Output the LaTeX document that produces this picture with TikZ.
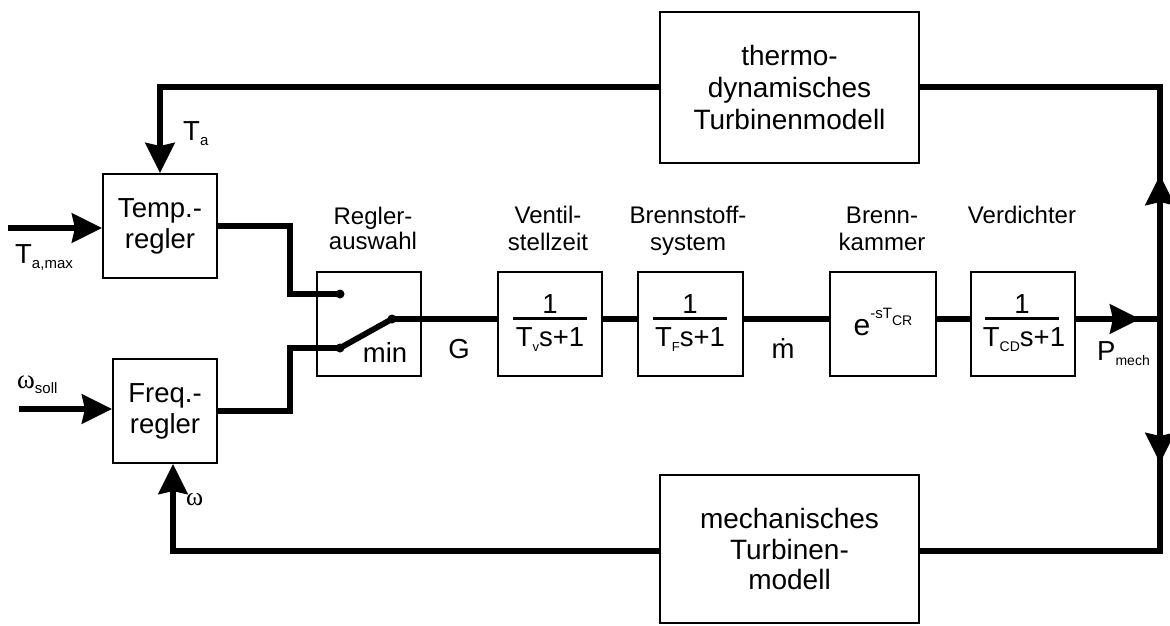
\documentclass[tikz,border=0pt]{standalone}
\usepackage{fontspec}
\setmainfont{Liberation Sans}
\newfontfamily\serifw{Liberation Serif}
\usetikzlibrary{arrows.meta,calc}
\newcommand\lowtxt[2][15]{\raisebox{-5pt}{\fontsize{#1}{#1}\selectfont #2}}
\newcommand\hightxt[3][15]{\raisebox{#2}{\fontsize{#1}{#1}\selectfont #3}}
\begin{document}
\begin{tikzpicture}[x=1pt,y=-1pt,
  blk/.style={draw, line width=2pt, minimum width=104pt, minimum height=104pt,
    inner sep=0pt, font=\fontsize{27.5}{31}\selectfont, align=center},
  sig/.style={line width=5.8pt},
  arr/.style={sig, -{Stealth[length=30pt,width=29pt,inset=3pt]}},
  capt/.style={font=\fontsize{24}{27}\selectfont, anchor=base, inner sep=0pt},
  lbl/.style={font=\fontsize{27.5}{31}\selectfont, anchor=base, inner sep=0pt},
  lblw/.style={lbl, anchor=base west},
  dot/.style={circle, fill, inner sep=0pt, minimum size=9pt},
  bar/.style={line width=3pt}]
\useasboundingbox[fill=white] (0,0) rectangle (1170,625);

% blocks
\node[blk, minimum width=114pt] (temp) at (160,226) {Temp.-\\regler};
\node[blk] (freq) at (165,411) {Freq.-\\regler};
\node[blk] (sw) at (369,324) {};
\node[blk] (vent) at (550,324) {};
\node[blk, minimum width=105pt] (fuel) at (690.5,324) {};
\node[blk, minimum width=106pt] (comb) at (883,324) {};
\node[blk] (comp) at (1023,324) {};
\node[blk, minimum width=259pt, minimum height=151pt, font=\fontsize{28}{32}\selectfont]
  (thermo) at (789.5,87.5) {thermo-\\dynamisches\\Turbinenmodell};
\node[blk, minimum width=259pt, minimum height=148pt, font=\fontsize{28}{30.5}\selectfont]
  (mech) at (789.5,549) {mechanisches\\Turbinen-\\modell};

% switch
\node[dot] (s1) at (340,294) {};
\node[dot] (s2) at (340,348) {};
\node[dot] (s3) at (392,319) {};
\node[lbl] (mintxt) at (385,362) {min};

% coordinates
\coordinate (J) at (1160,319);
\coordinate (JT) at (1160,87);
\coordinate (JB) at (1160,551);
\coordinate (upTip) at (1160,175);
\coordinate (dnTip) at (1160,463);
\coordinate (pTip) at (1140,319);
\coordinate (wIn) at ($(freq.south)+(8,0)$);
\coordinate (tmax) at (8,228);
\coordinate (wsoll) at (19,409);

% connectors
\draw[sig] (temp.east) -- ++(72,0) |- (s1.center);
\draw[sig] (freq.east) -- ++(72,0) |- (s2.center);
\draw[sig] (s2.center) -- (s3.center);
\draw[sig] (s3.center) -- (s3 -| vent.west);
\draw[sig] (vent.east |- s3) -- (fuel.west |- s3);
\draw[sig] (fuel.east |- s3) -- (comb.west |- s3);
\draw[sig] (comb.east |- s3) -- (comp.west |- s3);
\draw[sig] (comp.east |- J) -- (J);
\draw[arr] (comp.east |- J) -- (pTip);
\draw[sig] (thermo.east |- JT) -- (JT) -- (JB) -- (mech.east |- JB);
\draw[arr] (J) -- (upTip);
\draw[arr] (J) -- (dnTip);
\draw[arr] (thermo.west |- JT) -| (temp.north);
\draw[arr] (mech.west |- JB) -| (wIn);
\draw[arr] (tmax) -- (temp.west |- tmax);
\draw[arr] (wsoll) -- (freq.west |- wsoll);

% fractions
\node[lbl] (n1) at (550,313) {1};
\draw[bar] (513,318) -- (587,318);
\node[lbl] (d1) at (550,346) {T\lowtxt[13]{v}s+1};
\node[lbl] (n2) at (690,313) {1};
\draw[bar] (653,318) -- (727,318);
\node[lbl] (d2) at (690,346) {T\lowtxt[13]{F}s+1};
\node[lbl] (n3) at (1022,313) {1};
\draw[bar] (985,318) -- (1059,318);
\node[lbl] (d3) at (1024,346) {T\lowtxt[14]{CD}s+1};
\node[lbl] (ex) at (883,335) {\fontsize{30}{30}\selectfont e\hightxt{17pt}{-sT}\hightxt[14]{10pt}{CR}};

% signal labels
\node[lblw] (lTa) at (183,140) {T\lowtxt{a}};
\node[lblw] (lTmax) at (15,263) {T\lowtxt{a,max}};
\node[lblw, font=\fontsize{27}{27}\selectfont] (lws) at (17,388) {{\serifw ω}\lowtxt{soll}};
\node[lblw, font=\fontsize{26}{26}\selectfont] (lw) at (186,505) {\serifw ω};
\node[lbl] (lG) at (459,358) {G};
\node[lbl] (lm) at (783,358) {\.{m}};
\node[lblw] (lP) at (1097,360) {P\lowtxt[14]{mech}};

% captions
\node[capt] at (373,224) {Regler-};
\node[capt] at (373,249) {auswahl};
\node[capt] at (548,223) {Ventil-};
\node[capt] at (548,250) {stellzeit};
\node[capt] at (688,223) {Brennstoff-};
\node[capt] at (688,250) {system};
\node[capt] at (882,223) {Brenn-};
\node[capt] at (882,250) {kammer};
\node[capt] at (1022,223) {Verdichter};
\end{tikzpicture}
\end{document}
